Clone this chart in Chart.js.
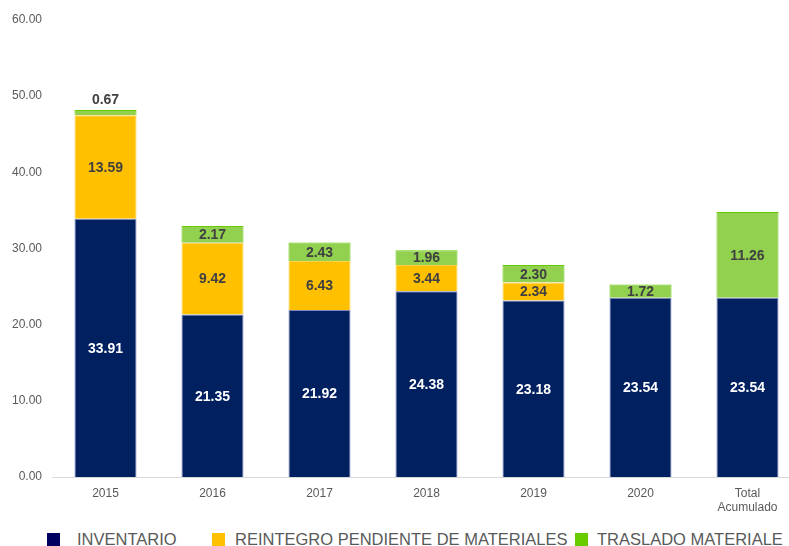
<!DOCTYPE html>
<html lang="es">
<head>
<meta charset="utf-8">
<title>Inventario por año</title>
<script src="https://cdn.jsdelivr.net/npm/chart.js@4.4.1/dist/chart.umd.min.js"></script>
<style>
    html, body { margin: 0; padding: 0; background: #fff; overflow: hidden; }
    #wrap { position: relative; width: 802px; height: 546px; }
    #chartBox { position: absolute; left: 0; top: 0; width: 802px; height: 520px; }
    .legend-item { position: absolute; top: 531px; height: 16px; display: flex; align-items: center;
        font-family: "Liberation Sans", Arial, sans-serif; font-size: 16.5px; color: #595959; white-space: nowrap; }
    .legend-item span.box { display: inline-block; width: 13px; height: 13px; }
</style>
</head>
<body>
<div id="wrap">
    <div id="chartBox"><canvas id="stockChart"></canvas></div>
    <div id="legend"></div>
</div>
<script>
// Datos por año (millones)
const categories = ['2015', '2016', '2017', '2018', '2019', '2020', ['Total', 'Acumulado']];
const inventario = [33.91, 21.35, 21.92, 24.38, 23.18, 23.54, 23.54];
const reintegro  = [13.59, 9.42, 6.43, 3.44, 2.34, 0, 0];
const traslado   = [0.67, 2.17, 2.43, 1.96, 2.30, 1.72, 11.26];
const seriesNames = ['INVENTARIO', 'REINTEGRO PENDIENTE DE MATERIALES', 'TRASLADO MATERIALE'];

const FONT = '"Liberation Sans", Arial, sans-serif';

// Etiquetas de valor dentro de cada segmento
const valueLabels = {
    id: 'valueLabels',
    afterDatasetsDraw(chart) {
        const ctx = chart.ctx;
        ctx.save();
        ctx.font = 'bold 14px ' + FONT;
        ctx.textAlign = 'center';
        ctx.textBaseline = 'middle';
        chart.data.datasets.forEach((ds, i) => {
            const meta = chart.getDatasetMeta(i);
            meta.data.forEach((bar, j) => {
                const v = ds.data[j];
                if (!v) return;
                const h = Math.abs(bar.base - bar.y);
                let y = (bar.y + bar.base) / 2;
                ctx.fillStyle = i === 0 ? '#ffffff' : '#404040';
                if (h < 8) {
                    ctx.fillStyle = '#404040';
                    y = bar.y - 11;
                }
                ctx.fillText(v.toFixed(2), bar.x, y + 1);
            });
        });
        ctx.restore();
    }
};

new Chart(document.getElementById('stockChart'), {
    type: 'bar',
    data: {
        labels: categories,
        datasets: [{
            label: seriesNames[0],
            data: inventario,
            backgroundColor: '#002060',
            borderColor: '#7f86c4',
            borderWidth: 1
        }, {
            label: seriesNames[1],
            data: reintegro,
            backgroundColor: '#ffc000',
            borderColor: '#ffd24d',
            borderWidth: 1
        }, {
            label: seriesNames[2],
            data: traslado,
            backgroundColor: '#92d050',
            borderColor: '#66cc00',
            borderWidth: 1
        }]
    },
    options: {
        responsive: true,
        maintainAspectRatio: false,
        animation: false,
        layout: { padding: { top: 20, right: 1, left: 0, bottom: 0 } },
        datasets: { bar: { categoryPercentage: 1, barPercentage: 0.58 } },
        plugins: {
            legend: { display: false },
            tooltip: { enabled: false }
        },
        scales: {
            x: {
                stacked: true,
                grid: { display: false, drawTicks: false },
                border: { display: true, color: '#d9d9d9', width: 1 },
                ticks: { color: '#595959', font: { family: FONT, size: 12 }, padding: 9, maxRotation: 0 },
                afterFit(axis) { axis.height = 43; }
            },
            y: {
                stacked: true,
                min: 0,
                max: 60,
                grid: { display: false, drawTicks: false },
                border: { display: false },
                ticks: {
                    stepSize: 10,
                    color: '#595959',
                    font: { family: FONT, size: 12 },
                    padding: 10,
                    callback: value => value.toFixed(2)
                },
                afterFit(axis) { axis.width = 52; }
            }
        }
    },
    plugins: [valueLabels]
});

// Leyenda inferior
const legendColors = ['#000060', '#ffc000', '#66cc00'];
const legendPos = [[47, 77], [212, 235], [575, 597]];
const legend = document.getElementById('legend');
seriesNames.forEach((name, i) => {
    const box = document.createElement('div');
    box.className = 'legend-item';
    box.style.left = legendPos[i][0] + 'px';
    box.innerHTML = '<span class="box" style="background:' + legendColors[i] + '"></span>';
    legend.appendChild(box);
    const txt = document.createElement('div');
    txt.className = 'legend-item';
    txt.style.left = legendPos[i][1] + 'px';
    txt.textContent = name;
    legend.appendChild(txt);
});
</script>
</body>
</html>
